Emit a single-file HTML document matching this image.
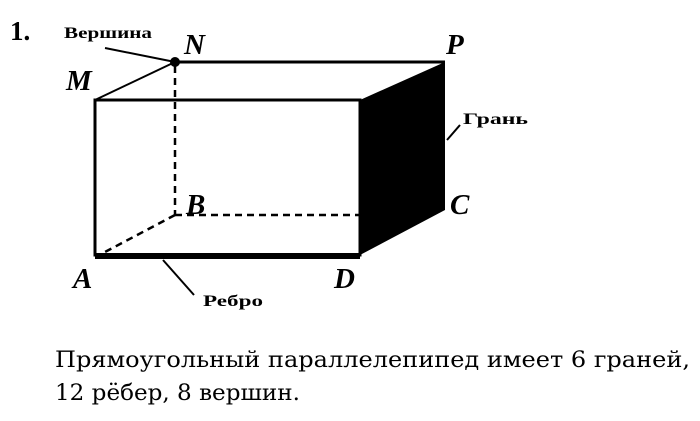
<!DOCTYPE html>
<html><head><meta charset="utf-8"><style>
body{margin:0;background:#fff;width:700px;height:421px;overflow:hidden;position:relative}
svg{position:absolute;left:0;top:0}
</style></head><body>
<svg width="700" height="421" viewBox="0 0 700 421" font-family="Liberation Serif, serif">
<text x="10" y="40" font-size="27" font-weight="bold">1.</text>
<text x="64" y="38" font-size="16" font-weight="bold" textLength="88" lengthAdjust="spacingAndGlyphs">Вершина</text>
<line x1="105" y1="48" x2="175" y2="62" stroke="#000" stroke-width="2"/>
<circle cx="175" cy="62" r="5" fill="#000"/>
<g font-weight="bold" font-style="italic" font-size="29">
<text x="184" y="54">N</text>
<text x="446" y="54">P</text>
<text x="66" y="90">M</text>
<text x="186" y="214">B</text>
<text x="450" y="214">C</text>
<text x="73" y="288">A</text>
<text x="334" y="288">D</text>
</g>
<text x="463" y="124" font-size="16" font-weight="bold" textLength="65" lengthAdjust="spacingAndGlyphs">Грань</text>
<line x1="447" y1="140" x2="460" y2="125" stroke="#000" stroke-width="2"/>
<text x="203" y="306" font-size="16" font-weight="bold" textLength="60" lengthAdjust="spacingAndGlyphs">Ребро</text>
<line x1="163" y1="260" x2="194" y2="295" stroke="#000" stroke-width="2"/>
<g stroke="#000" stroke-width="2.5" fill="none" stroke-dasharray="7,5">
<line x1="175" y1="66" x2="175" y2="215"/>
<line x1="175" y1="215" x2="360" y2="215"/>
<line x1="175" y1="215" x2="105" y2="252"/>
</g>
<polygon points="360,100 445,62 445,210 360,255" fill="#000"/>
<g stroke="#000" fill="none">
<line x1="175" y1="62" x2="445" y2="62" stroke-width="3"/>
<line x1="95" y1="100" x2="175" y2="62" stroke-width="2"/>
<rect x="95" y="100" width="265" height="155" stroke-width="3"/>
<line x1="95" y1="256" x2="360" y2="256" stroke-width="6"/>
</g>
<g font-family="DejaVu Serif, serif" font-size="22">
<text x="55" y="367" textLength="635" lengthAdjust="spacingAndGlyphs">Прямоугольный параллелепипед имеет 6 граней,</text>
<text x="55" y="400" textLength="245" lengthAdjust="spacingAndGlyphs">12 рёбер, 8 вершин.</text>
</g>
</svg>
</body></html>
